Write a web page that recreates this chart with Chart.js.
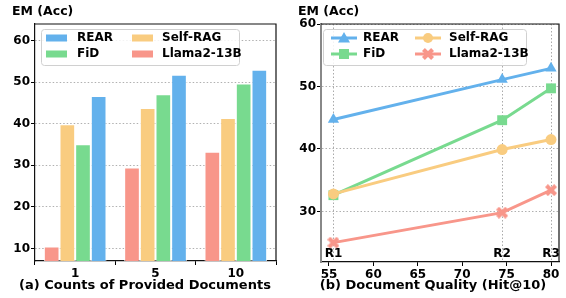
<!DOCTYPE html>
<html><head><meta charset="utf-8">
<script src="https://cdn.jsdelivr.net/npm/chart.js@4.4.1/dist/chart.umd.min.js"></script>
<style>
html,body{margin:0;padding:0;background:#fff;}
#wrap{position:relative;width:566px;height:298px;}
.box{position:absolute;top:0;width:283px;height:298px;}
</style></head><body>
<div id="wrap">
  <div class="box" style="left:0"><canvas id="left"></canvas></div>
  <div class="box" style="left:283px"><canvas id="right"></canvas></div>
</div>
<script>
// (a) counts of provided documents
const docCounts = ['1', '5', '10'];
const barLlama = [10.5, 29.5, 33.3];
const barSelfRag = [39.9, 43.8, 41.4];
const barFid = [35.1, 47.1, 49.7];
const barRear = [46.7, 51.8, 53.0];
const barYTicks = [10, 20, 30, 40, 50, 60];

// (b) document quality
const hitAt10 = [55.5, 74.5, 80.0];
const retrieverNames = ['R1', 'R2', 'R3'];
const lineRear = [44.7, 51.1, 52.9];
const lineFid = [32.6, 44.6, 49.7];
const lineSelfRag = [32.8, 39.9, 41.5];
const lineLlama = [25.0, 29.8, 33.4];
const lineYTicks = [30, 40, 50, 60];
const lineXTicks = [55, 60, 65, 70, 75, 80];

const BLUE = '#63b1ec', GREEN = '#78da8f', ORANGE = '#f9cc80', RED = '#f8968a';
const FONT = "'DejaVu Sans', sans-serif";
const tickFont = {family: FONT, size: 12, weight: 'bold'};

function xMarker(color, size) {
  const c = document.createElement('canvas');
  c.width = size; c.height = size;
  const g = c.getContext('2d');
  g.strokeStyle = color; g.lineWidth = size * 0.34; g.lineCap = 'butt';
  const m = size * 0.12;
  g.beginPath();
  g.moveTo(m, m); g.lineTo(size - m, size - m);
  g.moveTo(size - m, m); g.lineTo(m, size - m);
  g.stroke();
  return c;
}
const llamaX = xMarker(RED, 12);

function drawMarker(ctx, style, color, x, y) {
  ctx.fillStyle = color;
  ctx.beginPath();
  if (style === 'triangle') {
    ctx.moveTo(x, y - 6); ctx.lineTo(x + 6, y + 4.5); ctx.lineTo(x - 6, y + 4.5); ctx.closePath(); ctx.fill();
  } else if (style === 'rect') {
    ctx.fillRect(x - 5, y - 5, 10, 10);
  } else if (style === 'circle') {
    ctx.arc(x, y, 5, 0, Math.PI * 2); ctx.fill();
  } else {
    ctx.drawImage(llamaX, x - 6, y - 6);
  }
}

const textPlugin = {
  id: 'texts',
  afterDraw(chart, args, opts) {
    const ctx = chart.ctx, a = chart.chartArea;
    ctx.save();
    // frame
    ctx.strokeStyle = '#111'; ctx.lineWidth = 1.2;
    ctx.beginPath();
    ctx.moveTo(a.left, a.top); ctx.lineTo(a.right, a.top); ctx.lineTo(a.right, a.bottom);
    ctx.stroke();
    ctx.fillStyle = '#000';
    ctx.textBaseline = 'middle';
    ctx.textAlign = 'left';
    ctx.font = "bold 12.5px " + FONT;
    ctx.fillText('EM (Acc)', opts.emX, 12);
    ctx.textAlign = 'center';
    ctx.font = "bold 13px " + FONT;
    ctx.fillText(opts.xTitle, opts.titleX, 286);
    // legend
    ctx.font = "bold 12px " + FONT;
    const L = opts.legend;
    ctx.fillStyle = 'rgba(255,255,255,0.85)';
    ctx.strokeStyle = '#d0d0d0'; ctx.lineWidth = 1;
    ctx.beginPath();
    ctx.roundRect(L.x + 0.5, L.y + 0.5, L.w, L.h, 3);
    ctx.fill(); ctx.stroke();
    ctx.textAlign = 'left';
    L.items.forEach((it) => {
      const sx = L.x + it.sx, y = L.y + it.sy;
      if (L.kind === 'bar') {
        ctx.fillStyle = it.color;
        ctx.fillRect(sx, y - 3.5, 21, 7);
      } else {
        ctx.strokeStyle = it.color; ctx.lineWidth = 3;
        ctx.beginPath(); ctx.moveTo(sx, y); ctx.lineTo(sx + 26, y); ctx.stroke();
        drawMarker(ctx, it.style, it.color, sx + 13, y);
      }
      ctx.fillStyle = '#000';
      ctx.fillText(it.label, sx + it.tx, y);
    });
    ctx.restore();
  }
};

const qualityPlugin = {
  id: 'quality',
  beforeDatasetsDraw(chart) {
    const ctx = chart.ctx, a = chart.chartArea, xs = chart.scales.x;
    ctx.save();
    ctx.strokeStyle = '#aaa'; ctx.lineWidth = 1; ctx.setLineDash([1.5, 2]);
    hitAt10.forEach((v) => {
      const px = Math.round(xs.getPixelForValue(v)) + 0.5;
      ctx.beginPath(); ctx.moveTo(px, a.top); ctx.lineTo(px, a.bottom); ctx.stroke();
    });
    ctx.restore();
  },
  afterDatasetsDraw(chart) {
    const ctx = chart.ctx, a = chart.chartArea, xs = chart.scales.x;
    ctx.save();
    ctx.fillStyle = '#000'; ctx.font = "bold 12px " + FONT;
    ctx.textAlign = 'center'; ctx.textBaseline = 'middle';
    retrieverNames.forEach((n, i) => {
      ctx.fillText(n, xs.getPixelForValue(hitAt10[i]), a.bottom - 8);
    });
    ctx.restore();
  }
};

function setTicks(values) {
  return (scale) => { scale.ticks = values.map((v) => ({value: v})); };
}

new Chart(document.getElementById('left'), {
  type: 'bar',
  data: {
    labels: docCounts,
    datasets: [
      {label: 'Llama2-13B', data: barLlama, backgroundColor: RED},
      {label: 'Self-RAG', data: barSelfRag, backgroundColor: ORANGE},
      {label: 'FiD', data: barFid, backgroundColor: GREEN},
      {label: 'REAR', data: barRear, backgroundColor: BLUE}
    ].map((d) => Object.assign(d, {borderColor: 'rgba(255,255,255,0.9)', borderWidth: 1,
      categoryPercentage: 0.78, barPercentage: 1}))
  },
  options: {
    responsive: true, maintainAspectRatio: false, animation: false,
    layout: {padding: {top: 24, right: 7, left: 0, bottom: 0}},
    plugins: {
      legend: {display: false}, tooltip: {enabled: false},
      texts: {
        emX: 12, xTitle: '(a) Counts of Provided Documents', titleX: 145,
        legend: {kind: 'bar', x: 41, y: 29, w: 198, h: 36, items: [
          {label: 'REAR', color: BLUE, sx: 5, sy: 9, tx: 31},
          {label: 'FiD', color: GREEN, sx: 5, sy: 25, tx: 31},
          {label: 'Self-RAG', color: ORANGE, sx: 91, sy: 9, tx: 30},
          {label: 'Llama2-13B', color: RED, sx: 91, sy: 25, tx: 30}
        ]}
      }
    },
    scales: {
      x: {
        offset: true,
        grid: {display: true, drawOnChartArea: false, tickLength: 4, tickColor: '#000'},
        border: {color: '#111', width: 1.2},
        ticks: {font: tickFont, color: '#000', padding: 2},
        afterFit: (s) => { s.height = 37; }
      },
      y: {
        min: 7, max: 64,
        afterBuildTicks: setTicks(barYTicks),
        grid: {color: '#b0b0b0', lineWidth: 1, tickLength: 4, tickColor: '#000', tickBorderDash: []},
        border: {color: '#111', width: 1.2, dash: [1.5, 2]},
        ticks: {font: tickFont, color: '#000', padding: 1},
        afterFit: (s) => { s.width = 35; }
      }
    }
  },
  plugins: [textPlugin]
});

const pts = (arr) => arr.map((v, i) => ({x: hitAt10[i], y: v}));

new Chart(document.getElementById('right'), {
  type: 'line',
  data: {
    datasets: [
      {label: 'REAR', data: pts(lineRear), borderColor: BLUE, backgroundColor: BLUE, pointStyle: 'triangle', pointRadius: 6.5},
      {label: 'Self-RAG', data: pts(lineSelfRag), borderColor: ORANGE, backgroundColor: ORANGE, pointStyle: 'circle', pointRadius: 5.5},
      {label: 'FiD', data: pts(lineFid), borderColor: GREEN, backgroundColor: GREEN, pointStyle: 'rect', pointRadius: 7},
      {label: 'Llama2-13B', data: pts(lineLlama), borderColor: RED, backgroundColor: RED, pointStyle: llamaX, pointRadius: 6}
    ].map((d) => Object.assign(d, {borderWidth: 3, pointBorderWidth: 0, tension: 0}))
  },
  options: {
    responsive: true, maintainAspectRatio: false, animation: false,
    layout: {padding: {top: 24, right: 7, left: 0, bottom: 0}},
    plugins: {
      legend: {display: false}, tooltip: {enabled: false},
      texts: {
        emX: 15, xTitle: '(b) Document Quality (Hit@10)', titleX: 150,
        legend: {kind: 'line', x: 40, y: 29, w: 203, h: 36, items: [
          {label: 'REAR', color: BLUE, style: 'triangle', sx: 8, sy: 9, tx: 32},
          {label: 'FiD', color: GREEN, style: 'rect', sx: 8, sy: 25, tx: 32},
          {label: 'Self-RAG', color: ORANGE, style: 'circle', sx: 92, sy: 9, tx: 34},
          {label: 'Llama2-13B', color: RED, style: 'x', sx: 92, sy: 25, tx: 34}
        ]}
      }
    },
    scales: {
      x: {
        type: 'linear', min: 54.1, max: 80.9,
        afterBuildTicks: setTicks(lineXTicks),
        grid: {display: true, drawOnChartArea: false, tickLength: 4, tickColor: '#000'},
        border: {color: '#111', width: 1.2},
        ticks: {font: tickFont, color: '#000', padding: 2},
        afterFit: (s) => { s.height = 36; }
      },
      y: {
        min: 21.9, max: 60,
        afterBuildTicks: setTicks(lineYTicks),
        grid: {color: '#b0b0b0', lineWidth: 1, tickLength: 4, tickColor: '#000', tickBorderDash: []},
        border: {color: '#888', width: 2, dash: [1.5, 2]},
        ticks: {font: tickFont, color: '#000', padding: 1},
        afterFit: (s) => { s.width = 38; }
      }
    }
  },
  plugins: [qualityPlugin, textPlugin]
});
</script>
</body></html>
